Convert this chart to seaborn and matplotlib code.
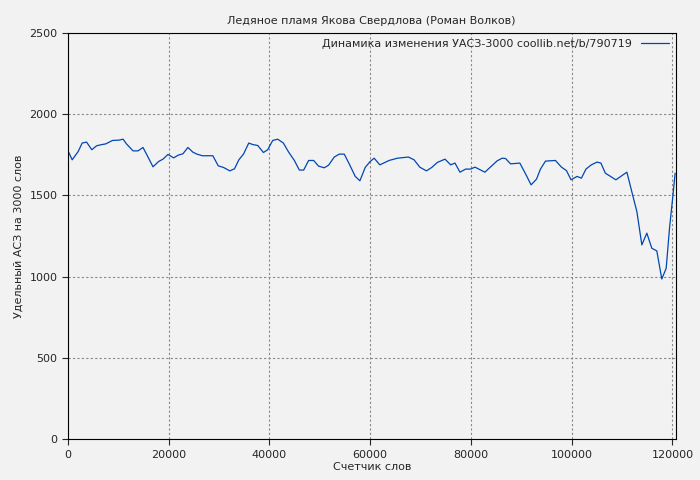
import pandas as pd
import seaborn as sns
import matplotlib.pyplot as plt

# Word counter positions and specific ACS values
words = [0, 850, 2040, 2830, 3700, 4750, 5680, 6470, 7520, 8850, 10160, 10950,
         11620, 12930, 13920, 14910, 15900, 16890, 18020, 18870, 19860, 20990,
         21920, 22830, 23820, 24810, 25600, 26670, 28770, 29840, 30890, 32140,
         33070, 33930, 34850, 35900, 36690, 37680, 38810, 39660, 40650, 41640,
         42770, 43820, 44950, 45940, 46800, 47780, 48780, 49760, 50890, 51740,
         52870, 53860, 54850, 55840, 57030, 57960, 59010, 59940, 60790, 61910,
         63760, 65410, 67580, 68710, 69840, 71160, 72220, 73330, 74850, 75980,
         76830, 77820, 78950, 79940, 80790, 82770, 85210, 86200, 86870, 87860,
         89700, 90830, 91940, 93010, 93800, 94790, 96770, 97960, 98950, 99870,
         101060, 101920, 102830, 103890, 105010, 105800, 106670, 108770, 110950,
         112080, 112930, 113920, 114910, 115900, 116890, 117880, 118750, 119410,
         120000, 120530]
acs = [1775, 1718, 1769, 1821, 1827, 1780, 1804, 1810, 1816, 1837, 1839, 1845,
       1816, 1773, 1773, 1794, 1735, 1675, 1708, 1722, 1751, 1730, 1747, 1755,
       1794, 1765, 1753, 1743, 1743, 1681, 1671, 1650, 1663, 1718, 1753, 1821,
       1812, 1806, 1763, 1780, 1837, 1845, 1821, 1765, 1714, 1655, 1655, 1714,
       1714, 1679, 1669, 1685, 1735, 1753, 1753, 1693, 1616, 1589, 1671, 1706,
       1728, 1687, 1714, 1728, 1735, 1718, 1673, 1650, 1671, 1702, 1722, 1687,
       1698, 1642, 1661, 1661, 1673, 1642, 1712, 1728, 1726, 1693, 1698, 1632,
       1564, 1599, 1661, 1710, 1714, 1673, 1652, 1595, 1616, 1605, 1661, 1687,
       1704, 1698, 1636, 1595, 1642, 1503, 1400, 1195, 1267, 1174, 1158, 985,
       1051, 1297, 1472, 1636]

df = pd.DataFrame({'words': words, 'acs': acs})

sns.set_style('ticks')
plt.rcParams['font.family'] = ['DejaVu Sans']

fig, ax = plt.subplots(figsize=(7, 4.8), dpi=100)
fig.patch.set_facecolor('#f2f2f2')
ax.set_facecolor('#f2f2f2')

sns.lineplot(data=df, x='words', y='acs', ax=ax, color='#0047b3', linewidth=0.9,
             label='Динамика изменения УАСЗ-3000 coollib.net/b/790719')

ax.set_xlim(0, 120600)
ax.set_ylim(0, 2500)
ax.set_xticks(range(0, 120001, 20000))
ax.set_yticks(range(0, 2501, 500))
ax.grid(True, color='#888888', linestyle=(0, (2, 2)), linewidth=0.8)
for s in ax.spines.values():
    s.set_color('black')
ax.tick_params(labelsize=8, direction='out', length=4)

ax.set_title('Ледяное пламя Якова Свердлова (Роман Волков)', fontsize=8)
ax.set_xlabel('Счетчик слов', fontsize=8, labelpad=2)
ax.set_ylabel('Удельный АСЗ на 3000 слов', fontsize=8)

leg = ax.legend(loc='upper right', frameon=False, fontsize=8,
                markerfirst=False, handlelength=2.5, borderaxespad=0.2)

plt.subplots_adjust(left=0.097, right=0.965, top=0.932, bottom=0.085)
plt.savefig('out.png', dpi=100, facecolor=fig.get_facecolor())
plt.close()
